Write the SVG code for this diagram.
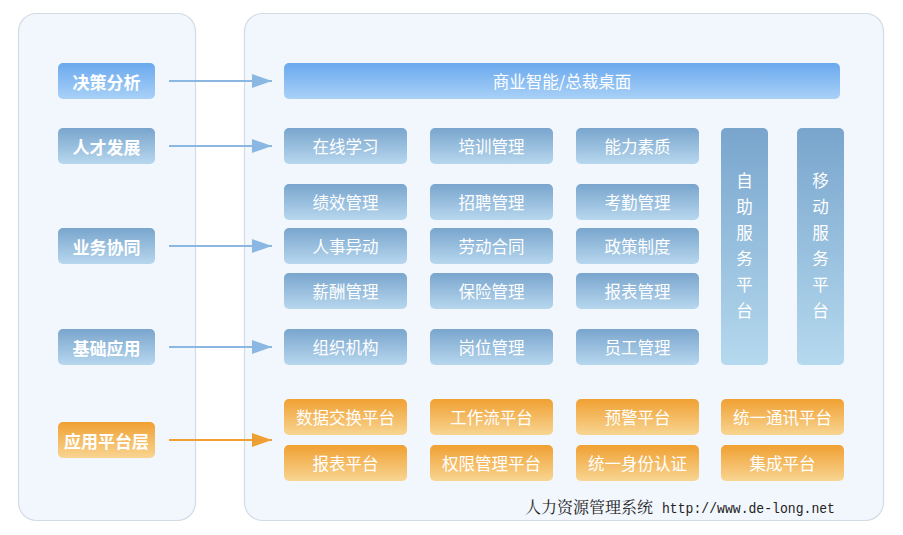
<svg xmlns="http://www.w3.org/2000/svg" width="903" height="535" viewBox="0 0 903 535">
<defs>
<linearGradient id="gTop" x1="0" y1="0" x2="0" y2="1"><stop offset="0" stop-color="#6aa9ee"/><stop offset="1" stop-color="#a9d1f7"/></linearGradient>
<linearGradient id="gBlue" x1="0" y1="0" x2="0" y2="1"><stop offset="0" stop-color="#79a5cd"/><stop offset="1" stop-color="#b7d7ee"/></linearGradient>
<linearGradient id="gBlueV" x1="0" y1="0" x2="0" y2="1"><stop offset="0" stop-color="#79a5cd"/><stop offset="1" stop-color="#b5d9ee"/></linearGradient>
<linearGradient id="gOr" x1="0" y1="0" x2="0" y2="1"><stop offset="0" stop-color="#f0a032"/><stop offset="1" stop-color="#f8d592"/></linearGradient>
<marker id="aB" viewBox="0 0 20 14" refX="20" refY="7" markerWidth="20" markerHeight="14" markerUnits="userSpaceOnUse" orient="auto"><path d="M0,0 L20,7 L0,14 Z" fill="#8ab8e2"/></marker>
<marker id="aO" viewBox="0 0 20 14" refX="20" refY="7" markerWidth="20" markerHeight="14" markerUnits="userSpaceOnUse" orient="auto"><path d="M0,0 L20,7 L0,14 Z" fill="#f0a032"/></marker>
</defs>
<style>
.panel{fill:#f2f7fd;stroke:#d3dbe6;stroke-width:1.2}
.lbl{font-family:"Noto Sans CJK SC","Noto Sans",sans-serif;font-weight:bold;font-size:17px;fill:#ffffff;text-anchor:middle;dominant-baseline:central}
.t{font-family:"Noto Sans CJK SC","Noto Sans",sans-serif;font-size:16.5px;fill:#ffffff;text-anchor:middle;dominant-baseline:central}
.b{fill:url(#gBlue)}
.o{fill:url(#gOr)}
.cb{stroke:#8ab8e2;stroke-width:2;fill:none}
.co{stroke:#f0a032;stroke-width:2;fill:none}
.foot{font-family:"Noto Serif CJK SC","Noto Sans CJK SC",serif;font-size:16px;fill:#222222}
.url{font-family:"Liberation Mono",monospace;font-size:15px}
</style>
<rect width="903" height="535" fill="#ffffff"/>
<rect class="panel" x="18.5" y="13.5" width="177" height="507" rx="18"/>
<rect class="panel" x="244.5" y="13.5" width="639" height="507" rx="18"/>

<g id="connectors">
<line class="cb" x1="169" y1="81" x2="272" y2="81" marker-end="url(#aB)"/>
<line class="cb" x1="169" y1="146" x2="272" y2="146" marker-end="url(#aB)"/>
<line class="cb" x1="169" y1="246" x2="272" y2="246" marker-end="url(#aB)"/>
<line class="cb" x1="169" y1="347" x2="272" y2="347" marker-end="url(#aB)"/>
<line class="co" x1="169" y1="440" x2="272" y2="440" marker-end="url(#aO)"/>
</g>

<g id="n-juece"><rect x="58" y="63" width="97" height="36" rx="5" fill="url(#gTop)"/><text class="lbl" x="106.5" y="81">决策分析</text></g>
<g id="n-rencai"><rect class="b" x="58" y="128" width="97" height="36" rx="5"/><text class="lbl" x="106.5" y="146">人才发展</text></g>
<g id="n-yewu"><rect class="b" x="58" y="228" width="97" height="36" rx="5"/><text class="lbl" x="106.5" y="246">业务协同</text></g>
<g id="n-jichu"><rect class="b" x="58" y="329" width="97" height="36" rx="5"/><text class="lbl" x="106.5" y="347">基础应用</text></g>
<g id="n-pingtai"><rect class="o" x="58" y="422" width="97" height="36" rx="5"/><text class="lbl" x="106.5" y="440">应用平台层</text></g>

<g id="n-bi"><rect x="284" y="63" width="556" height="36" rx="5" fill="url(#gTop)"/><text class="t" x="562" y="81">商业智能/总裁桌面</text></g>

<g id="n-zaixian"><rect class="b" x="284" y="128" width="123" height="36" rx="5"/><text class="t" x="345.5" y="146">在线学习</text></g>
<g id="n-peixun"><rect class="b" x="430" y="128" width="123" height="36" rx="5"/><text class="t" x="491.5" y="146">培训管理</text></g>
<g id="n-nengli"><rect class="b" x="576" y="128" width="123" height="36" rx="5"/><text class="t" x="637.5" y="146">能力素质</text></g>

<g id="n-jixiao"><rect class="b" x="284" y="184" width="123" height="36" rx="5"/><text class="t" x="345.5" y="202">绩效管理</text></g>
<g id="n-zhaopin"><rect class="b" x="430" y="184" width="123" height="36" rx="5"/><text class="t" x="491.5" y="202">招聘管理</text></g>
<g id="n-kaoqin"><rect class="b" x="576" y="184" width="123" height="36" rx="5"/><text class="t" x="637.5" y="202">考勤管理</text></g>

<g id="n-renshi"><rect class="b" x="284" y="228" width="123" height="36" rx="5"/><text class="t" x="345.5" y="246">人事异动</text></g>
<g id="n-laodong"><rect class="b" x="430" y="228" width="123" height="36" rx="5"/><text class="t" x="491.5" y="246">劳动合同</text></g>
<g id="n-zhengce"><rect class="b" x="576" y="228" width="123" height="36" rx="5"/><text class="t" x="637.5" y="246">政策制度</text></g>

<g id="n-xinchou"><rect class="b" x="284" y="273" width="123" height="36" rx="5"/><text class="t" x="345.5" y="291">薪酬管理</text></g>
<g id="n-baoxian"><rect class="b" x="430" y="273" width="123" height="36" rx="5"/><text class="t" x="491.5" y="291">保险管理</text></g>
<g id="n-baobiao"><rect class="b" x="576" y="273" width="123" height="36" rx="5"/><text class="t" x="637.5" y="291">报表管理</text></g>

<g id="n-zuzhi"><rect class="b" x="284" y="329" width="123" height="36" rx="5"/><text class="t" x="345.5" y="347">组织机构</text></g>
<g id="n-gangwei"><rect class="b" x="430" y="329" width="123" height="36" rx="5"/><text class="t" x="491.5" y="347">岗位管理</text></g>
<g id="n-yuangong"><rect class="b" x="576" y="329" width="123" height="36" rx="5"/><text class="t" x="637.5" y="347">员工管理</text></g>

<g id="n-zizhu"><rect x="721" y="128" width="47" height="237" rx="5" fill="url(#gBlueV)"/>
<text class="t" x="744.5" y="180">自</text><text class="t" x="744.5" y="206">助</text><text class="t" x="744.5" y="232">服</text><text class="t" x="744.5" y="258">务</text><text class="t" x="744.5" y="284">平</text><text class="t" x="744.5" y="310">台</text></g>
<g id="n-yidong"><rect x="797" y="128" width="47" height="237" rx="5" fill="url(#gBlueV)"/>
<text class="t" x="820.5" y="180">移</text><text class="t" x="820.5" y="206">动</text><text class="t" x="820.5" y="232">服</text><text class="t" x="820.5" y="258">务</text><text class="t" x="820.5" y="284">平</text><text class="t" x="820.5" y="310">台</text></g>

<g id="n-shuju"><rect class="o" x="284" y="399" width="123" height="36" rx="5"/><text class="t" x="345.5" y="417">数据交换平台</text></g>
<g id="n-gongzuoliu"><rect class="o" x="430" y="399" width="123" height="36" rx="5"/><text class="t" x="491.5" y="417">工作流平台</text></g>
<g id="n-yujing"><rect class="o" x="576" y="399" width="123" height="36" rx="5"/><text class="t" x="637.5" y="417">预警平台</text></g>
<g id="n-tongxun"><rect class="o" x="721" y="399" width="123" height="36" rx="5"/><text class="t" x="782.5" y="417">统一通讯平台</text></g>

<g id="n-baobiaopt"><rect class="o" x="284" y="445" width="123" height="36" rx="5"/><text class="t" x="345.5" y="463">报表平台</text></g>
<g id="n-quanxian"><rect class="o" x="430" y="445" width="123" height="36" rx="5"/><text class="t" x="491.5" y="463">权限管理平台</text></g>
<g id="n-shenfen"><rect class="o" x="576" y="445" width="123" height="36" rx="5"/><text class="t" x="637.5" y="463">统一身份认证</text></g>
<g id="n-jicheng"><rect class="o" x="721" y="445" width="123" height="36" rx="5"/><text class="t" x="782.5" y="463">集成平台</text></g>

<text class="foot" x="525" y="513">人力资源管理系统</text>
<text class="foot url" x="662" y="513" textLength="173" lengthAdjust="spacingAndGlyphs">http://www.de-long.net</text>
</svg>
